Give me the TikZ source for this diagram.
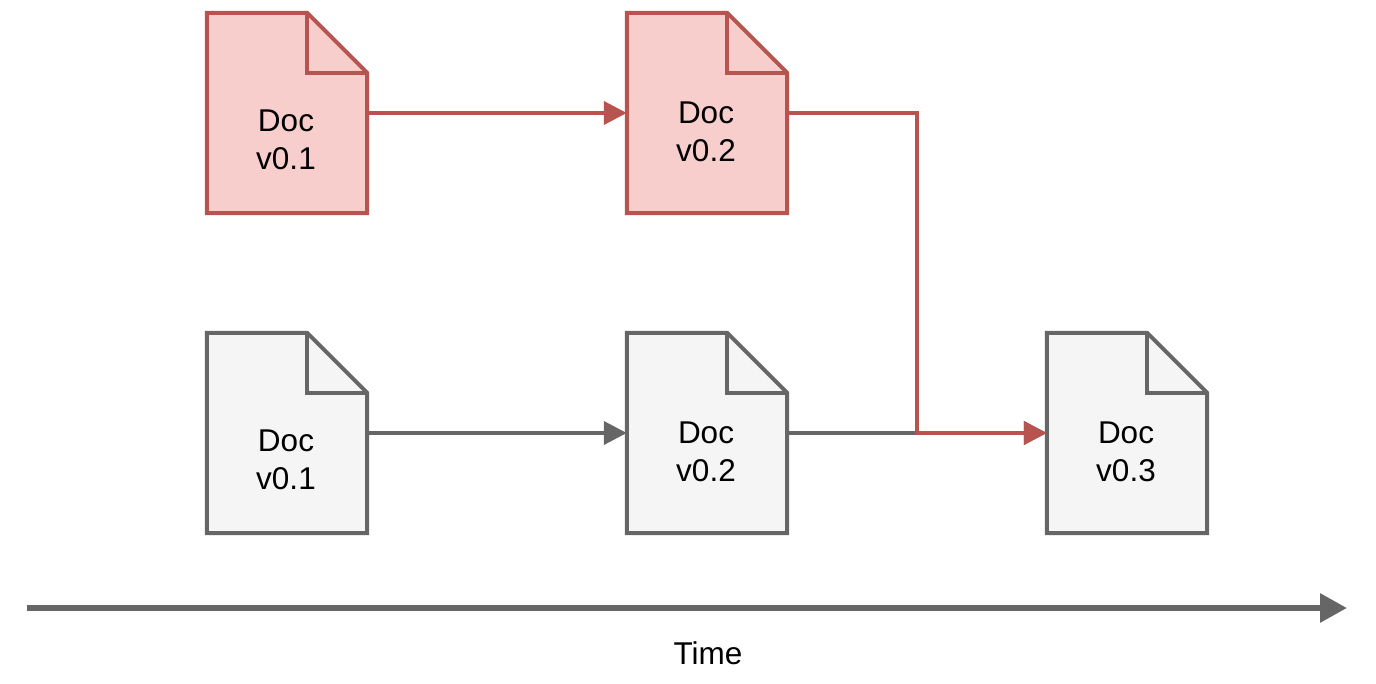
\documentclass[tikz,border=0pt]{standalone}
\usepackage{fontspec}
\setmainfont{Liberation Sans}
\usetikzlibrary{calc}
\usetikzlibrary{arrows.meta}
\definecolor{redline}{HTML}{B85450}
\definecolor{redfill}{HTML}{F8CECC}
\definecolor{greyline}{HTML}{666666}
\definecolor{greyfill}{HTML}{F5F5F5}
\tikzset{
	docpage/.style 2 args={
		rectangle,
		inner sep=0pt,
		minimum width=160pt,
		minimum height=200pt,
		append after command={\pgfextra{
			\draw[draw=#1, fill=#2, line width=4pt, miter limit=10]
				(\tikzlastnode.north west) -- ($(\tikzlastnode.north east)+(-60,0)$)
				-- ($(\tikzlastnode.north east)+(0,60)$) -- (\tikzlastnode.south east)
				-- (\tikzlastnode.south west) -- cycle;
			\draw[draw=#1, line width=4pt]
				($(\tikzlastnode.north east)+(-60,0)$) -- ($(\tikzlastnode.north east)+(-60,60)$)
				-- ($(\tikzlastnode.north east)+(0,60)$);
		}}},
	reddoc/.style={docpage={redline}{redfill}},
	greydoc/.style={docpage={greyline}{greyfill}},
	doctext/.style={align=center, inner sep=0pt, font=\fontsize{31.5}{37.5}\selectfont},
	link/.style={draw=#1, line width=4pt, -{Triangle[length=23pt,width=23pt]}},
}

\begin{document}
\begin{tikzpicture}[x=1pt, y=-1pt]
	\useasboundingbox (0,0) rectangle (1376,684);

	% top row
	\node[reddoc] (redA) at (287,113) {};
	\node[doctext] (redAtext) at (286,140) {Doc\\v0.1};
	\node[reddoc] (redB) at (707,113) {};
	\node[doctext] (redBtext) at (706,132) {Doc\\v0.2};

	% bottom row
	\node[greydoc] (greyA) at (287,433) {};
	\node[doctext] (greyAtext) at (286,460) {Doc\\v0.1};
	\node[greydoc] (greyB) at (707,433) {};
	\node[doctext] (greyBtext) at (706,452) {Doc\\v0.2};
	\node[greydoc] (greyC) at (1127,433) {};
	\node[doctext] (greyCtext) at (1126,452) {Doc\\v0.3};

	\draw[link=greyline] (greyA.east) -- (greyB.west);
	\draw[link=greyline] (greyB.east) -- (greyC.west);
	\draw[link=redline] (redA.east) -- (redB.west);
	\draw[link=redline] (redB.east) -| (917,433) -- (greyC.west);

	% time axis
	\coordinate (start) at (27,608);
	\coordinate (end) at (1347,608);
	\draw[draw=greyline, line width=6pt, -{Triangle[length=27pt,width=28pt]}] (start) -- (end);
	\node[doctext] (time) at (708,653) {Time};
\end{tikzpicture}
\end{document}
